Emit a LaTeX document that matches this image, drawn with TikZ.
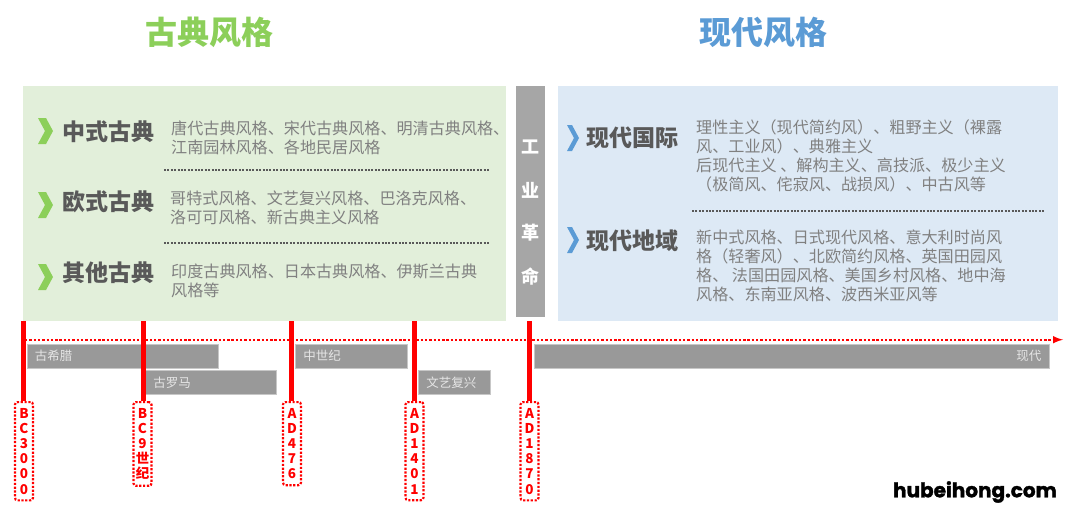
\documentclass[tikz,border=0pt]{standalone}
\usepackage{fontspec}
\setmainfont{Noto Sans CJK SC}
\newfontfamily\markfont[BoldFeatures={FakeBold=1.6}]{Poppins}
\usetikzlibrary{arrows}
\definecolor{leafgreen}{HTML}{8CCF5A}
\definecolor{skyblue}{HTML}{5B9BD5}
\definecolor{greenpanel}{HTML}{E2EFDA}
\definecolor{bluepanel}{HTML}{DDE9F5}
\definecolor{headgray}{HTML}{595959}
\definecolor{bodygray}{HTML}{808080}
\definecolor{erafill}{HTML}{999999}
\definecolor{timered}{HTML}{FF0000}
\tikzset{
  title/.style={font=\fontsize{32}{36}\selectfont\bfseries,anchor=center},
  panel/.style={anchor=north west,inner sep=0pt},
  head/.style={font=\fontsize{23}{26}\selectfont\bfseries,text=headgray,anchor=west,inner sep=0pt},
  body/.style={font=\fontsize{16.1}{19}\selectfont,text=bodygray,anchor=north west,align=left,inner sep=0pt},
  rule/.style={headgray,line width=2pt,dash pattern=on 2pt off 1.4pt},
  era/.style={fill=erafill,draw=black!22,line width=.6pt,anchor=north west,inner ysep=0pt,inner xsep=8pt,
    minimum height=24pt,text=white!90!black,font=\fontsize{12.5}{14}\selectfont,text width=#1},
  stem/.style={timered,line width=5pt},
  datebox/.style={draw=timered,text=timered,line width=2.2pt,dash pattern=on 2.2pt off 1.6pt,rounded corners=2.5pt,
    anchor=north,align=center,inner xsep=0pt,inner ysep=6pt,minimum width=18pt,
    font=\fontsize{13.5}{15.2}\selectfont\bfseries}
}
\newcommand{\chevron}[3]{% colour, left x, top y
  \fill[#1] (#2,#3) -- ++(8,0) -- ++(7,13) -- ++(-7,13) -- ++(-8,0) -- ++(7,-13) -- cycle;}
\newcommand{\thinchevron}[3]{%
  \fill[#1] (#2,#3) -- ++(5,0) -- ++(7,13) -- ++(-7,13) -- ++(-5,0) -- ++(7,-13) -- cycle;}
\begin{document}
\begin{tikzpicture}[x=1pt,y=-1pt]
\useasboundingbox (0,0) rectangle (1080,515);

% headings
\node[title,text=leafgreen] (classic) at (209,32) {古典风格};
\node[title,text=skyblue] (modern) at (763,32) {现代风格};

% panels
\node[panel,fill=greenpanel,minimum width=483pt,minimum height=235pt] (greenbox) at (23,86) {};
\node[panel,fill=bluepanel,minimum width=500pt,minimum height=235pt] (bluebox) at (558,86) {};
\node[panel,fill=black!35,minimum width=29pt,minimum height=231pt] (revbox) at (516,86) {};
\node[text=white,font=\fontsize{18}{20}\selectfont\bfseries] (rev1) at (530.5,147) {工};
\node[text=white,font=\fontsize{18}{20}\selectfont\bfseries] (rev2) at (530.5,190) {业};
\node[text=white,font=\fontsize{18}{20}\selectfont\bfseries] (rev3) at (530.5,233) {革};
\node[text=white,font=\fontsize{18}{20}\selectfont\bfseries] (rev4) at (530.5,277) {命};

% left side
\chevron{leafgreen}{38}{118}
\chevron{leafgreen}{38}{192}
\chevron{leafgreen}{38}{264}
\node[head] (chinese) at (62,132) {中式古典};
\node[head] (european) at (62,202) {欧式古典};
\node[head] (other) at (62,273) {其他古典};
\node[body] (chinesetxt) at (171,121) {唐代古典风格、宋代古典风格、明清古典风格、\\江南园林风格、各地民居风格};
\node[body] (europeantxt) at (170,191) {哥特式风格、文艺复兴风格、巴洛克风格、\\洛可可风格、新古典主义风格};
\node[body] (othertxt) at (171,264) {印度古典风格、日本古典风格、伊斯兰古典\\风格等};
\coordinate (ruleAa) at (164,170);
\coordinate (ruleAb) at (490,170);
\coordinate (ruleBa) at (164,243);
\coordinate (ruleBb) at (490,243);
\draw[rule] (ruleAa) -- (ruleAb);
\draw[rule] (ruleBa) -- (ruleBb);

% right side
\thinchevron{skyblue}{567}{125}
\thinchevron{skyblue}{567}{227}
\node[head] (intl) at (586,138) {现代国际};
\node[head] (local) at (586,241) {现代地域};
\node[body] (intltxt) at (696,120) {理性主义（现代简约风）、粗野主义（裸露\\风、工业风）、典雅主义\\后现代主义 、解构主义、高技派、极少主义\\（极简风、侘寂风、战损风）、中古风等};
\node[body] (localtxt) at (696,230) {新中式风格、日式现代风格、意大利时尚风\\格（轻奢风）、北欧简约风格、英国田园风\\格、 法国田园风格、美国乡村风格、地中海\\风格、东南亚风格、波西米亚风等};
\coordinate (ruleCa) at (692,211);
\coordinate (ruleCb) at (1045,211);
\draw[rule] (ruleCa) -- (ruleCb);

% eras
\node[era=175pt,align=left] (greece) at (26.5,343.5) {古希腊};
\node[era=115pt,align=left] (rome) at (145,370) {古罗马};
\node[era=96pt,align=left] (medieval) at (295,343.5) {中世纪};
\node[era=56pt,align=left] (renaissance) at (418,370) {文艺复兴};
\node[era=499pt,align=right] (present) at (534,343.5) {现代};

% time line
\coordinate (timestart) at (25,339.7);
\coordinate (timeend) at (1063,339.7);
\draw[timered,line width=2.4pt,dash pattern=on 2.4pt off 1.9pt,-latex] (timestart) -- (timeend);

\node[datebox] (d1) at (24,401) {B\\C\\3\\0\\0\\0};
\node[datebox] (d2) at (142.5,401) {B\\C\\9\\世\\纪};
\node[datebox] (d3) at (292,401) {A\\D\\4\\7\\6};
\node[datebox] (d4) at (414.5,401) {A\\D\\1\\4\\0\\1};
\node[datebox] (d5) at (529.5,401) {A\\D\\1\\8\\7\\0};
\coordinate (t1) at (23,321);
\coordinate (t2) at (143,321);
\coordinate (t3) at (291.7,321);
\coordinate (t4) at (414,321);
\coordinate (t5) at (529,321);
\draw[stem] (t1) -- (t1 |- d1.north);
\draw[stem] (t2) -- (t2 |- d2.north);
\draw[stem] (t3) -- (t3 |- d3.north);
\draw[stem] (t4) -- (t4 |- d4.north);
\draw[stem] (t5) -- (t5 |- d5.north);

\node[font=\fontsize{20}{22}\selectfont\markfont\bfseries,anchor=east,inner sep=0pt] (mark) at (1057,492) {hubeihong.com};
\end{tikzpicture}
\end{document}
